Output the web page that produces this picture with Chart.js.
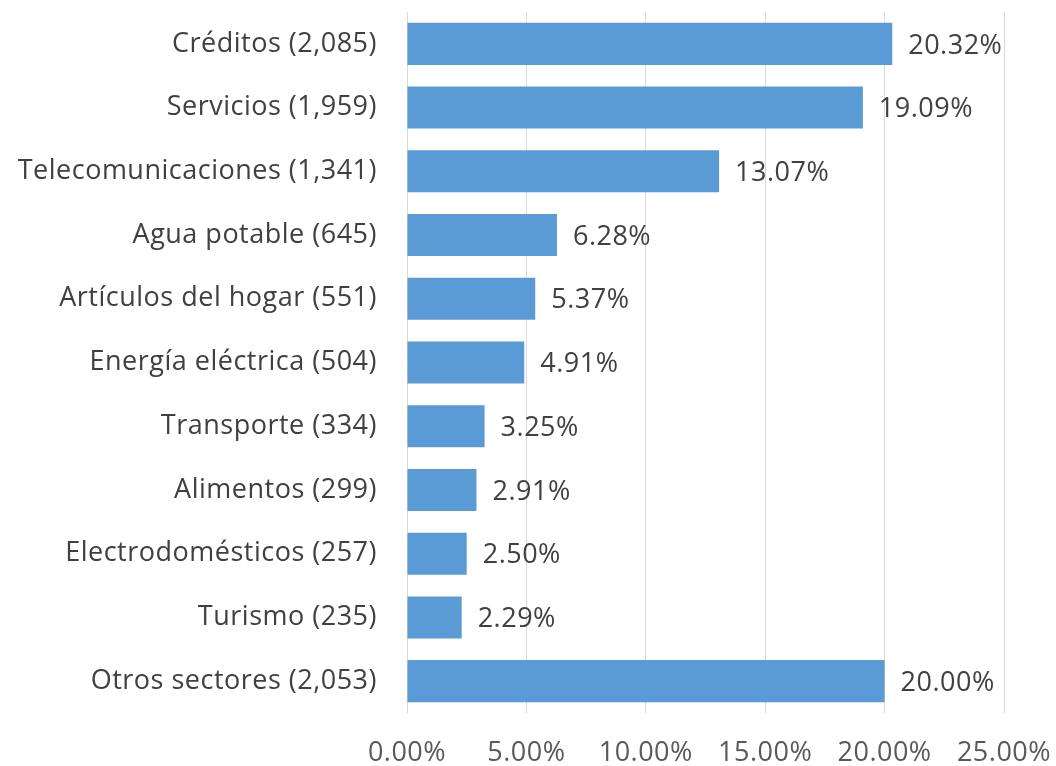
<!DOCTYPE html>
<html>
<head>
<meta charset="utf-8">
<script src="https://cdn.jsdelivr.net/npm/chart.js@4/dist/chart.umd.min.js"></script>
<style>
  html, body { margin: 0; padding: 0; background: #ffffff; }
  #wrap { width: 1056px; height: 766px; }
</style>
</head>
<body>
<div id="wrap"><canvas id="chart" width="1056" height="766"></canvas></div>
<script>
// Categories (with counts) and share of each, in %
var categories = [
    'Créditos (2,085)',
    'Servicios (1,959)',
    'Telecomunicaciones (1,341)',
    'Agua potable (645)',
    'Artículos del hogar (551)',
    'Energía eléctrica (504)',
    'Transporte (334)',
    'Alimentos (299)',
    'Electrodomésticos (257)',
    'Turismo (235)',
    'Otros sectores (2,053)'
];
var shares = [20.32, 19.09, 13.07, 6.28, 5.37, 4.91, 3.25, 2.91, 2.50, 2.29, 20.00];
var xTicks = [0, 5, 10, 15, 20, 25];

var FONT = '"Open Sans", "Noto Sans", sans-serif';
var SIZE = 27;

// slightly loose letter spacing, like the original
var spacing = {
    id: 'spacing',
    beforeLayout: function(chart) { chart.ctx.letterSpacing = '0.5px'; },
    beforeDraw: function(chart) { chart.ctx.letterSpacing = '0.5px'; }
};

// Draw the percentage next to each bar
var barLabels = {
    id: 'barLabels',
    afterDatasetsDraw: function(chart) {
        var ctx = chart.ctx;
        var meta = chart.getDatasetMeta(0);
        ctx.save();
        ctx.font = SIZE + 'px ' + FONT;
        ctx.fillStyle = '#404040';
        ctx.textAlign = 'left';
        ctx.textBaseline = 'middle';
        meta.data.forEach(function(bar, i) {
            ctx.fillText(shares[i].toFixed(2) + '%', bar.x + 16, bar.y + 2);
        });
        ctx.restore();
    }
};

var chart = new Chart(document.getElementById('chart').getContext('2d'), {
    type: 'bar',
    data: {
        labels: categories,
        datasets: [{
            data: shares,
            backgroundColor: '#5b9bd5',
            borderWidth: 0,
            categoryPercentage: 1,
            barPercentage: 0.66
        }]
    },
    options: {
        indexAxis: 'y',
        responsive: false,
        animation: false,
        layout: { padding: { top: 12, right: 52, bottom: 0, left: 0 } },
        plugins: {
            legend: { display: false },
            tooltip: { enabled: false }
        },
        scales: {
            x: {
                min: 0,
                max: 25,
                afterBuildTicks: function(axis) {
                    axis.ticks = xTicks.map(function(v) { return { value: v }; });
                },
                afterFit: function(axis) {
                    axis.height = 53;
                    axis.paddingLeft = 0;
                    axis.paddingRight = 0;
                },
                grid: { color: '#d9d9d9', lineWidth: 1, drawTicks: false },
                border: { display: false },
                ticks: {
                    color: '#595959',
                    font: { family: FONT, size: SIZE },
                    padding: 24,
                    maxRotation: 0,
                    callback: function(v) { return v.toFixed(2) + '%'; }
                }
            },
            y: {
                afterFit: function(axis) {
                    axis.width = 407;
                    axis.paddingTop = 0;
                    axis.paddingBottom = 0;
                },
                grid: { display: false },
                border: { display: false },
                ticks: {
                    color: '#404040',
                    font: { family: FONT, size: SIZE },
                    padding: 22
                }
            }
        }
    },
    plugins: [spacing, barLabels]
});
</script>
</body>
</html>
